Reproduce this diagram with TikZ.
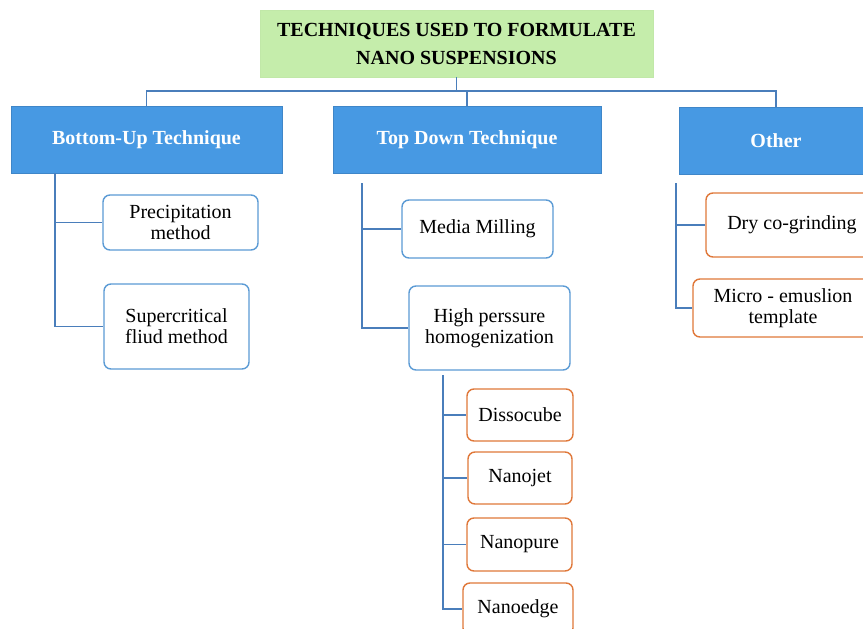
\documentclass[tikz,border=0pt]{standalone}
\usepackage{fontspec}
\setmainfont{Liberation Serif}
\definecolor{titlefill}{HTML}{C5EDAB}
\definecolor{headfill}{HTML}{4799E3}
\definecolor{headline}{HTML}{3F86C8}
\definecolor{blueline}{HTML}{5B9BD5}
\definecolor{orangeline}{HTML}{E0783A}
\definecolor{connline}{HTML}{4A7EBB}
\begin{document}
\begin{tikzpicture}[x=1pt,y=-1pt,
  titlebox/.style={draw=titlefill!90!black!20!titlefill, fill=titlefill, line width=0.6pt, inner sep=0pt, align=center, font=\fontsize{20}{28}\selectfont\bfseries},
  headbox/.style={draw=headline, fill=headfill, line width=1pt, inner sep=0pt, align=center, text=white, font=\fontsize{20}{21}\selectfont\bfseries},
  bluebox/.style={draw=blueline, fill=white, rounded corners=7pt, line width=1.4pt, inner sep=0pt, align=center, font=\fontsize{20}{21}\selectfont},
  orangebox/.style={draw=orangeline, fill=white, rounded corners=7pt, line width=1.4pt, inner sep=0pt, align=center, font=\fontsize{20}{21}\selectfont},
  conn/.style={draw=connline, line width=1.4pt}
]
\useasboundingbox (0,0) rectangle (863,629);
\fill[white] (0,0) rectangle (863,629);

\node[titlebox, minimum width=393pt, minimum height=67pt] (title) at (456.5,43.5) {TECHNIQUES USED TO FORMULATE\\NANO SUSPENSIONS};

\node[headbox, minimum width=271pt, minimum height=67pt] (bu) at (146.5,139.5) {Bottom-Up Technique};
\node[headbox, minimum width=268pt, minimum height=67pt] (td) at (467,139.5) {Top Down Technique};
\node[headbox, minimum width=194pt, minimum height=67pt] (ot) at (776,140.5) {Other};

\node[bluebox, minimum width=155pt, minimum height=55pt] (pm) at (180.5,222.5) {Precipitation\\method};
\node[bluebox, minimum width=145pt, minimum height=85pt] (sc) at (176.5,326.5) {Supercritical\\fliud method};

\node[bluebox, minimum width=151pt, minimum height=58pt] (mm) at (477.5,229) {Media Milling};
\node[bluebox, minimum width=161pt, minimum height=84pt] (hp) at (489.5,328) {High perssure\\homogenization};

\node[orangebox, minimum width=106pt, minimum height=52pt] (dc) at (520,415) {Dissocube};
\node[orangebox, minimum width=104pt, minimum height=52pt] (nj) at (520,478) {Nanojet};
\node[orangebox, minimum width=105pt, minimum height=53pt] (np) at (519.5,544.5) {Nanopure};
\node[orangebox, minimum width=110pt, minimum height=52pt] (ne) at (518,609) {Nanoedge};

\node[orangebox, minimum width=172pt, minimum height=64pt] (dg) at (792,225) {Dry co-grinding};
\node[orangebox, minimum width=180pt, minimum height=58pt] (me) at (783,308) {Micro - emuslion\\template};

% top connectors
\coordinate (tj) at (456.5,91);
\draw[conn] (title.south) -- (tj);
\draw[conn] (tj) -| (bu.north);
\draw[conn] (tj) -| (td.north);
\draw[conn] (tj) -| (ot.north);

% bottom-up
\coordinate (bux) at (55,173);
\draw[conn] (bux) |- (pm.west);
\draw[conn] (bux) |- (sc.west);

% top down
\coordinate (tdx) at (362,183);
\draw[conn] (tdx) |- (mm.west);
\draw[conn] (tdx) |- (hp.west);

% high pressure
\coordinate (hpx) at (443,375);
\draw[conn] (hpx) |- (dc.west);
\draw[conn] (hpx) |- (nj.west);
\draw[conn] (hpx) |- (np.west);
\draw[conn] (hpx) |- (ne.west);

% other
\coordinate (otx) at (676,183);
\draw[conn] (otx) |- (dg.west);
\draw[conn] (otx) |- (me.west);
\end{tikzpicture}
\end{document}
